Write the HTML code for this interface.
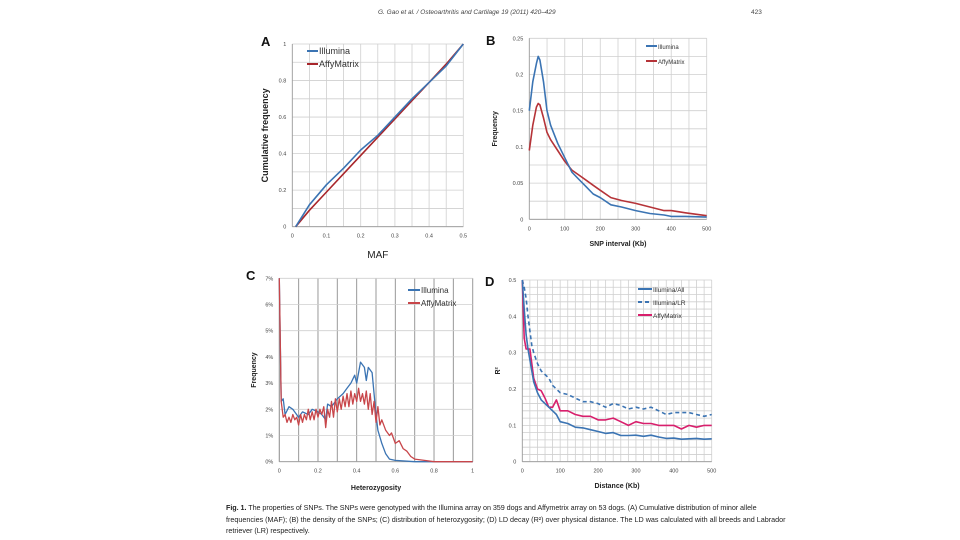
<!DOCTYPE html>
<html><head><meta charset="utf-8"><style>
html,body{margin:0;padding:0;background:#fff;}
body{width:960px;height:540px;overflow:hidden;position:relative;font-family:"Liberation Sans",sans-serif;}
.hdr{position:absolute;top:9px;font-size:6.5px;color:#444;font-style:italic;}
.cap{position:absolute;left:226px;width:580px;font-size:7.2px;color:#222;line-height:11.5px;top:502px;white-space:nowrap;}
</style></head><body>
<div class="hdr" style="left:378px">G. Gao et al. / Osteoarthritis and Cartilage 19 (2011) 420–429</div>
<div class="hdr" style="left:751px;font-style:normal">423</div>
<svg id="fig" width="960" height="540" style="position:absolute;left:0;top:0"></svg>
<div class="cap"><span style="letter-spacing:-0.05px"><b>Fig. 1.</b> The properties of SNPs. The SNPs were genotyped with the Illumina array on 359 dogs and Affymetrix array on 53 dogs. (A) Cumulative distribution of minor allele</span><br>frequencies (MAF); (B) the density of the SNPs; (C) distribution of heterozygosity; (D) LD decay (R²) over physical distance. The LD was calculated with all breeds and Labrador<br>retriever (LR) respectively.</div>
<script>
// Panel A data
const aX = [0.01,0.05,0.1,0.15,0.2,0.25,0.3,0.35,0.4,0.45,0.5];
const aIllumina = [0,0.12,0.23,0.32,0.42,0.5,0.6,0.7,0.79,0.88,1];
const aAffy = [0,0.09,0.19,0.29,0.39,0.49,0.59,0.69,0.79,0.89,1];
const aXTicks = ["0","0.1","0.2","0.3","0.4","0.5"];
const aYTicks = ["0","0.2","0.4","0.6","0.8","1"];
// Panel B data
const bX = [0,10,20,25,30,40,50,60,80,100,120,140,160,180,200,230,260,300,340,380,400,440,500];
const bIllumina = [.15,.19,.215,.225,.22,.19,.15,.13,.105,.085,.065,.055,.045,.035,.03,.02,.017,.012,.008,.006,.004,.004,.003];
const bAffy = [.095,.13,.155,.16,.158,.14,.12,.11,.095,.08,.068,.061,.054,.047,.04,.03,.026,.022,.017,.012,.012,.009,.005];
const bXTicks = ["0","100","200","300","400","500"];
const bYTicks = ["0","0.05","0.1","0.15","0.2","0.25"];
// Panel C data
const cIllX = [0,0.01,0.02,0.03,0.05,0.07,0.1,0.12,0.15,0.17,0.2,0.22,0.24,0.25,0.27,0.3,0.33,0.35,0.37,0.39,0.4,0.42,0.44,0.45,0.46,0.48,0.5,0.51,0.53,0.55,0.57,0.6,0.7,1];
const cIllumina = [7,2.3,2.4,1.8,2.1,2.0,1.7,1.9,1.8,2.0,1.9,1.8,1.6,2.2,2.1,2.4,2.6,2.8,3.0,3.3,3.0,3.8,3.6,3.1,3.6,3.4,1.8,1.2,0.7,0.3,0.1,0.05,0,0];
const cAffyX = [0,0.01,0.02,0.03,0.04,0.05,0.06,0.07,0.08,0.09,0.1,0.11,0.12,0.13,0.14,0.15,0.16,0.17,0.18,0.19,0.2,0.21,0.22,0.23,0.24,0.25,0.26,0.27,0.28,0.29,0.3,0.31,0.32,0.33,0.34,0.35,0.36,0.37,0.38,0.39,0.4,0.41,0.42,0.43,0.44,0.45,0.46,0.47,0.48,0.49,0.5,0.51,0.52,0.53,0.55,0.57,0.58,0.6,0.62,0.64,0.66,0.68,0.7,0.75,0.8,1];
const cAffy = [7,2.3,1.7,1.8,1.5,1.7,1.5,1.8,1.6,1.7,1.4,1.8,1.5,1.8,1.6,2.0,1.6,1.9,1.6,2.0,1.7,2.0,1.8,2.1,1.3,2.0,1.7,2.3,1.7,2.4,1.9,2.4,2.0,2.5,2.1,2.6,2.1,2.7,2.2,2.6,2.3,2.8,2.3,2.6,2.2,2.7,2.0,2.6,1.8,2.3,1.5,2.1,1.4,1.6,1.2,1.0,1.1,0.7,0.8,0.5,0.4,0.2,0.1,0.05,0,0];
const cXTicks = ["0","0.2","0.4","0.6","0.8","1"];
const cYTicks = ["0%","1%","2%","3%","4%","5%","6%","7%"];
// Panel D data
const dX = [0,5,10,15,20,25,30,40,50,60,70,80,90,100,120,140,160,180,200,220,240,260,280,300,320,340,360,380,400,420,440,460,480,500];
const dIllAll = [.5,.42,.35,.31,.28,.25,.22,.19,.17,.16,.15,.14,.13,.11,.105,.095,.093,.088,.083,.078,.08,.072,.072,.073,.07,.073,.068,.064,.065,.062,.063,.064,.062,.063];
const dIllLR = [.5,.48,.45,.4,.36,.32,.3,.27,.25,.24,.23,.21,.2,.19,.185,.175,.165,.165,.16,.15,.16,.155,.145,.15,.145,.15,.14,.13,.135,.135,.135,.13,.125,.13];
const dAffy = [.5,.34,.31,.31,.31,.27,.23,.2,.195,.175,.15,.15,.17,.14,.14,.13,.125,.125,.115,.115,.12,.11,.1,.11,.105,.105,.1,.1,.1,.09,.1,.095,.1,.1];
const dXTicks = ["0","100","200","300","400","500"];
const dYTicks = ["0","0.1","0.2","0.3","0.4","0.5"];

const NS="http://www.w3.org/2000/svg";
const svg=document.getElementById('fig');
function mk(tag,attrs,parent){const e=document.createElementNS(NS,tag);for(const k in attrs)e.setAttribute(k,attrs[k]);(parent||svg).appendChild(e);return e;}
function txt(s,attrs,parent){const e=mk('text',attrs,parent);e.textContent=s;return e;}

function panel(o){
  const g=mk('g',{});
  
  
  const sx=v=>o.l+(v-o.x0)/(o.x1-o.x0)*(o.r-o.l);
  const sy=v=>o.b-(v-o.y0)/(o.y1-o.y0)*(o.b-o.t);
  for(let v=o.x0;v<=o.x1+1e-9;v+=o.gx){const X=sx(v);const l=mk('line',{x1:X,x2:X,y1:o.t,y2:o.b,stroke:o.gxc||'#cfcfcf','stroke-width':o.gxw||0.8},g);}
  for(let v=o.y0;v<=o.y1+1e-9;v+=o.gy){const Y=sy(v);const l=mk('line',{x1:o.l,x2:o.r,y1:Y,y2:Y,stroke:'#cfcfcf','stroke-width':0.8},g);}
  mk('line',{x1:o.l,x2:o.l,y1:o.t,y2:o.b,stroke:'#999','stroke-width':0.8},g);
  mk('line',{x1:o.l,x2:o.r,y1:o.b,y2:o.b,stroke:'#999','stroke-width':0.8},g);
  o.xt.forEach((s,i)=>{const v=o.x0+i*(o.x1-o.x0)/(o.xt.length-1);const t=txt(s,{x:sx(v),y:o.b+11,'font-size':5.5,'text-anchor':'middle',fill:'#444'},g);});
  o.yt.forEach((s,i)=>{const v=o.y0+i*(o.y1-o.y0)/(o.yt.length-1);const t=txt(s,{x:o.l-6,y:sy(v)+2,'font-size':5.5,'text-anchor':'end',fill:'#444'},g);});
  o.series.forEach(s=>{
    const d=s.x.map((xv,i)=>(i?'L':'M')+sx(xv).toFixed(1)+','+sy(s.y[i]).toFixed(1)).join('');
    const p=mk('path',{d:d,fill:'none',stroke:s.c,'stroke-width':s.w||1.6,'stroke-dasharray':s.dash||'none','stroke-linejoin':'round'},g);
    
    
  });
  const L=txt(o.id,{x:o.lx,y:o.ly,'font-size':13,'font-weight':'bold',fill:'#111'},g);
  
  
  const xt=txt(o.xtitle,{x:(o.l+o.r)/2,y:o.xty,'font-size':o.xtfs||7,'font-weight':o.xtfw||'bold','text-anchor':'middle',fill:'#222'},g);
  
  
  const yx=o.ytx,yy=(o.t+o.b)/2;
  const yt=txt(o.ytitle,{x:yx,y:yy,'font-size':o.ytfs||7,'font-weight':'bold','text-anchor':'middle',fill:'#222',transform:`rotate(-90 ${yx} ${yy})`},g);
  
  
  o.legend.forEach((e,i)=>{
    const y=o.legY+i*o.legDy;
    const ln=mk('line',{x1:o.legX,x2:o.legX+o.legW,y1:y,y2:y,stroke:e.c,'stroke-width':2,'stroke-dasharray':e.dash||'none'},g);
    
    
    const t=txt(e.t,{x:o.legX+o.legW+1,y:y+3,'font-size':o.legFs||7,fill:'#333'},g);
    
    
  });
}
const BLUE='#3b74b3',RED='#b53338',PINK='#d81f6c';
panel({id:'A',l:292.3,r:463.3,t:44,b:226.7,x0:0,x1:0.5,y0:0,y1:1,gx:0.05,gy:0.1,xt:aXTicks,yt:aYTicks,
  series:[{name:'series-affymatrix',x:aX,y:aAffy,c:'#a8262b'},{name:'series-illumina',x:aX,y:aIllumina,c:BLUE}],
  lx:261,ly:46,xtitle:'MAF',xty:258,xtfs:10,xtfw:'normal',ytitle:'Cumulative frequency',ytx:268,ytfs:9,
  legend:[{t:'Illumina',c:BLUE},{t:'AffyMatrix',c:'#a8262b'}],legX:307,legY:51,legDy:13,legW:11,legFs:9});
panel({id:'B',l:529.3,r:706.7,t:38.3,b:219.3,x0:0,x1:500,y0:0,y1:0.25,gx:50,gy:0.025,xt:bXTicks,yt:bYTicks,
  series:[{name:'series-affymatrix',x:bX,y:bAffy,c:RED},{name:'series-illumina',x:bX,y:bIllumina,c:BLUE}],
  lx:486,ly:45,xtitle:'SNP interval (Kb)',xty:246,ytitle:'Frequency',ytx:497,
  legend:[{t:'Illumina',c:BLUE},{t:'AffyMatrix',c:RED}],legX:646,legY:46,legDy:15,legW:11,legFs:6});
panel({id:'C',l:279.3,r:472.7,t:278.3,b:461.7,x0:0,x1:1,y0:0,y1:7,gx:0.1,gy:1,gxc:'#999',gxw:1,xt:cXTicks,yt:cYTicks,
  series:[{name:'series-illumina',x:cIllX,y:cIllumina,c:BLUE,w:1.3},{name:'series-affymatrix',x:cAffyX,y:cAffy,c:'#c8464a',w:1.3}],
  lx:246,ly:280,xtitle:'Heterozygosity',xty:490,ytitle:'Frequency',ytx:256,
  legend:[{t:'Illumina',c:BLUE},{t:'AffyMatrix',c:'#c8464a'}],legX:408,legY:290,legDy:13,legW:12,legFs:8});
panel({id:'D',l:522.3,r:711.7,t:280,b:461.7,x0:0,x1:500,y0:0,y1:0.5,gx:20,gy:0.02,xt:dXTicks,yt:dYTicks,
  series:[{name:'series-illumina-lr',x:dX,y:dIllLR,c:BLUE,dash:'4,3'},{name:'series-affymatrix',x:dX,y:dAffy,c:PINK},{name:'series-illumina-all',x:dX,y:dIllAll,c:BLUE}],
  lx:485,ly:286,xtitle:'Distance (Kb)',xty:488,ytitle:'R²',ytx:500,
  legend:[{t:'Illumina/All',c:BLUE},{t:'Illumina/LR',c:BLUE,dash:'4,3'},{t:'AffyMatrix',c:PINK}],legX:638,legY:289,legDy:13,legW:14,legFs:6.5});
</script>
</body></html>
